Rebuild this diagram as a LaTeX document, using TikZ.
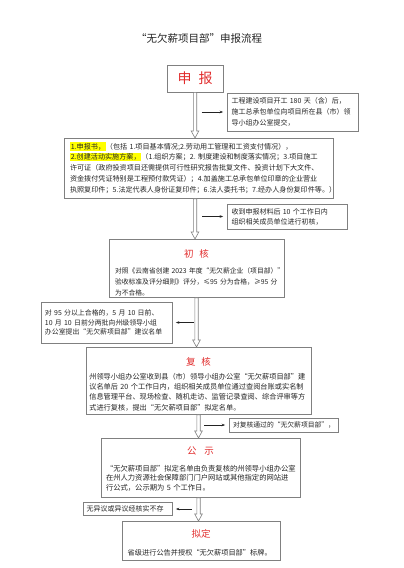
\documentclass[tikz,border=0pt]{standalone}
\usepackage{fontspec}
\setmainfont{Noto Sans CJK SC}
\usepackage{xcolor}
\usepackage{tikz}
\usetikzlibrary{arrows.meta, calc}
\definecolor{stagered}{RGB}{225, 45, 45}
\definecolor{framegray}{RGB}{128, 128, 128}
\definecolor{inkgray}{RGB}{35, 35, 35}
\definecolor{markyellow}{RGB}{255, 255, 0}
\newcommand{\marktext}[1]{{\setlength{\fboxsep}{0.8pt}\colorbox{markyellow}{#1}}}
\newcommand{\stagehead}[1]{{\centering\color{stagered}\fontsize{9.5}{12}\selectfont #1\par}}

\begin{document}
\begin{tikzpicture}[x=1pt, y=-1pt,
    box/.style={draw=framegray, line width=0.8pt, align=left, text=inkgray,
                inner ysep=0pt},
    side/.style={draw=inkgray, line width=0.5pt, shorten >=3.5pt,
                 -{Stealth[length=3.5pt, width=2.6pt]}},
    hollow/.style={draw=framegray, line width=0.6pt, fill=white,
        to path={let \p1=(\tikztostart), \p2=(\tikztotarget) in
          (\x1-1.7pt,\y1) -- (\x1-1.7pt,\y2+7pt) -- (\x1-3.8pt,\y2+7pt) -- (\x1,\y2)
          -- (\x1+3.8pt,\y2+7pt) -- (\x1+1.7pt,\y2+7pt) -- (\x1+1.7pt,\y1) -- cycle}},
]
\useasboundingbox (0,0) rectangle (404,568);

\node[text=inkgray, font=\fontsize{10.5}{12}\selectfont] (title) at (199,38) {“无欠薪项目部”申报流程};

% main stages
\node[box, align=center, minimum width=56pt, minimum height=27pt, text=stagered,
      font=\fontsize{14}{16}\selectfont] (apply) at (195,78.5) {申\hspace{0.5em}报};

\node[box, anchor=north, inner xsep=6pt, text width=257pt, text height=10.6pt, text depth=49.4pt,
      font=\fontsize{7.1}{10.8}\selectfont] (docs) at (198.5,138)
     {\marktext{1.申报书，}（包括~1.项目基本情况;2.劳动用工管理和工资支付情况），\\
      \marktext{2.创建活动实施方案，}（1.组织方案；2.~制度建设和制度落实情况；3.项目施工\\
      许可证（政府投资项目还需提供可行性研究报告批复文件、投资计划下大文件、\\
      资金拨付凭证特别是工程预付款凭证）；4.加盖施工总承包单位印章的企业营业\\
      执照复印件；5.法定代表人身份证复印件；6.法人委托书；7.经办人身份复印件等。）};

\node[box, anchor=north, inner xsep=6pt, text width=163pt, text height=18.5pt, text depth=39.5pt,
      font=\fontsize{6.8}{11}\selectfont] (firstcheck) at (196.5,239)
     {\stagehead{初\hspace{0.6em}核}\vspace{4.1pt}
      对照《云南省创建~2023~年度“无欠薪企业（项目部）”\\
      验收标准及评分细则》评分，≤95~分为合格，≥95~分\\
      为不合格。};

\node[box, anchor=north, inner xsep=3.3pt, text width=218.4pt, text height=18.5pt, text depth=48.5pt,
      font=\fontsize{7.2}{10.33}\selectfont] (review) at (198.5,347)
     {\stagehead{复\hspace{0.6em}核}\vspace{2.8pt}
      州领导小组办公室收到县（市）领导小组办公室“无欠薪项目部”建\\
      议名单后~20~个工作日内，组织相关成员单位通过查阅台账或实名制\\
      信息管理平台、现场检查、随机走访、监管记录查阅、综合评审等方\\
      式进行复核，提出“无欠薪项目部”拟定名单。};

\node[box, anchor=north, inner xsep=5pt, text width=189pt, text height=16.5pt, text depth=42.5pt,
      font=\fontsize{7.3}{9.6}\selectfont] (publicity) at (200.5,438)
     {\stagehead{公\hspace{0.8em}示}\vspace{6.6pt}
      “无欠薪项目部”拟定名单由负责复核的州领导小组办公室\\
      在州人力资源社会保障部门门户网站或其他指定的网站进\\
      行公式，公示期为~5~个工作日。};

\node[box, anchor=north, inner xsep=5.7pt, text width=146.6pt, text height=16.5pt, text depth=22.5pt,
      font=\fontsize{7.2}{10}\selectfont] (final) at (201,521)
     {\stagehead{拟定}\vspace{7.1pt}
      省级进行公告并授权“无欠薪项目部”标牌。};

% side notes
\node[box, inner xsep=4.5pt, text width=122pt, minimum height=38pt,
      font=\fontsize{7}{11.3}\selectfont] (inform) at (292.5,112)
     {工程建设项目开工~180~天（含）后，\\
      施工总承包单位向项目所在县（市）领\\
      导小组办公室提交，};

\node[box, inner xsep=4.5pt, text width=111pt, minimum height=25pt,
      font=\fontsize{7}{10}\selectfont] (tendays) at (287,216.5)
     {收到申报材料后~10~个工作日内\\
      组织相关成员单位进行初核，};

\node[box, inner xsep=4pt, text width=123pt, minimum height=41pt,
      font=\fontsize{6.9}{9.7}\selectfont] (namelist) at (106.5,322.5)
     {对~95~分以上合格的，5~月~10~日前、\\
      10~月~10~日前分两批向州级领导小组\\
      办公室提出“无欠薪项目部”建议名单};

\node[box, inner xsep=4pt, text width=101pt, minimum height=14pt,
      font=\fontsize{6.8}{9}\selectfont] (passed) at (283.5,425)
     {对复核通过的“无欠薪项目部”，};

\node[box, inner xsep=3.7pt, text width=81.6pt, minimum height=12.5pt,
      font=\fontsize{7}{9}\selectfont] (noobj) at (127.5,509)
     {无异议或异议经核实不存};

% flow arrows
\draw[hollow] (apply.south) to (docs.north);
\draw[hollow] (docs.south -| apply.south) to (firstcheck.north);
\draw[hollow] (firstcheck.south) to (review.north);
\draw[hollow] (review.south) to (publicity.north);
\draw[hollow] (publicity.south -| review.south) to (final.north);

\coordinate (s1) at (201.5,112);
\coordinate (s2) at (202,216.5);
\coordinate (s3) at (194,322.5);
\coordinate (s4) at (204,425);
\coordinate (s5) at (192,509);
\draw[side] (s1) -- (s1 -| inform.west);
\draw[side] (s2) -- (s2 -| tendays.west);
\draw[side] (s3) -- (s3 -| namelist.east);
\draw[side] (s4) -- (s4 -| passed.west);
\draw[side] (s5) -- (s5 -| noobj.east);

\end{tikzpicture}
\end{document}
